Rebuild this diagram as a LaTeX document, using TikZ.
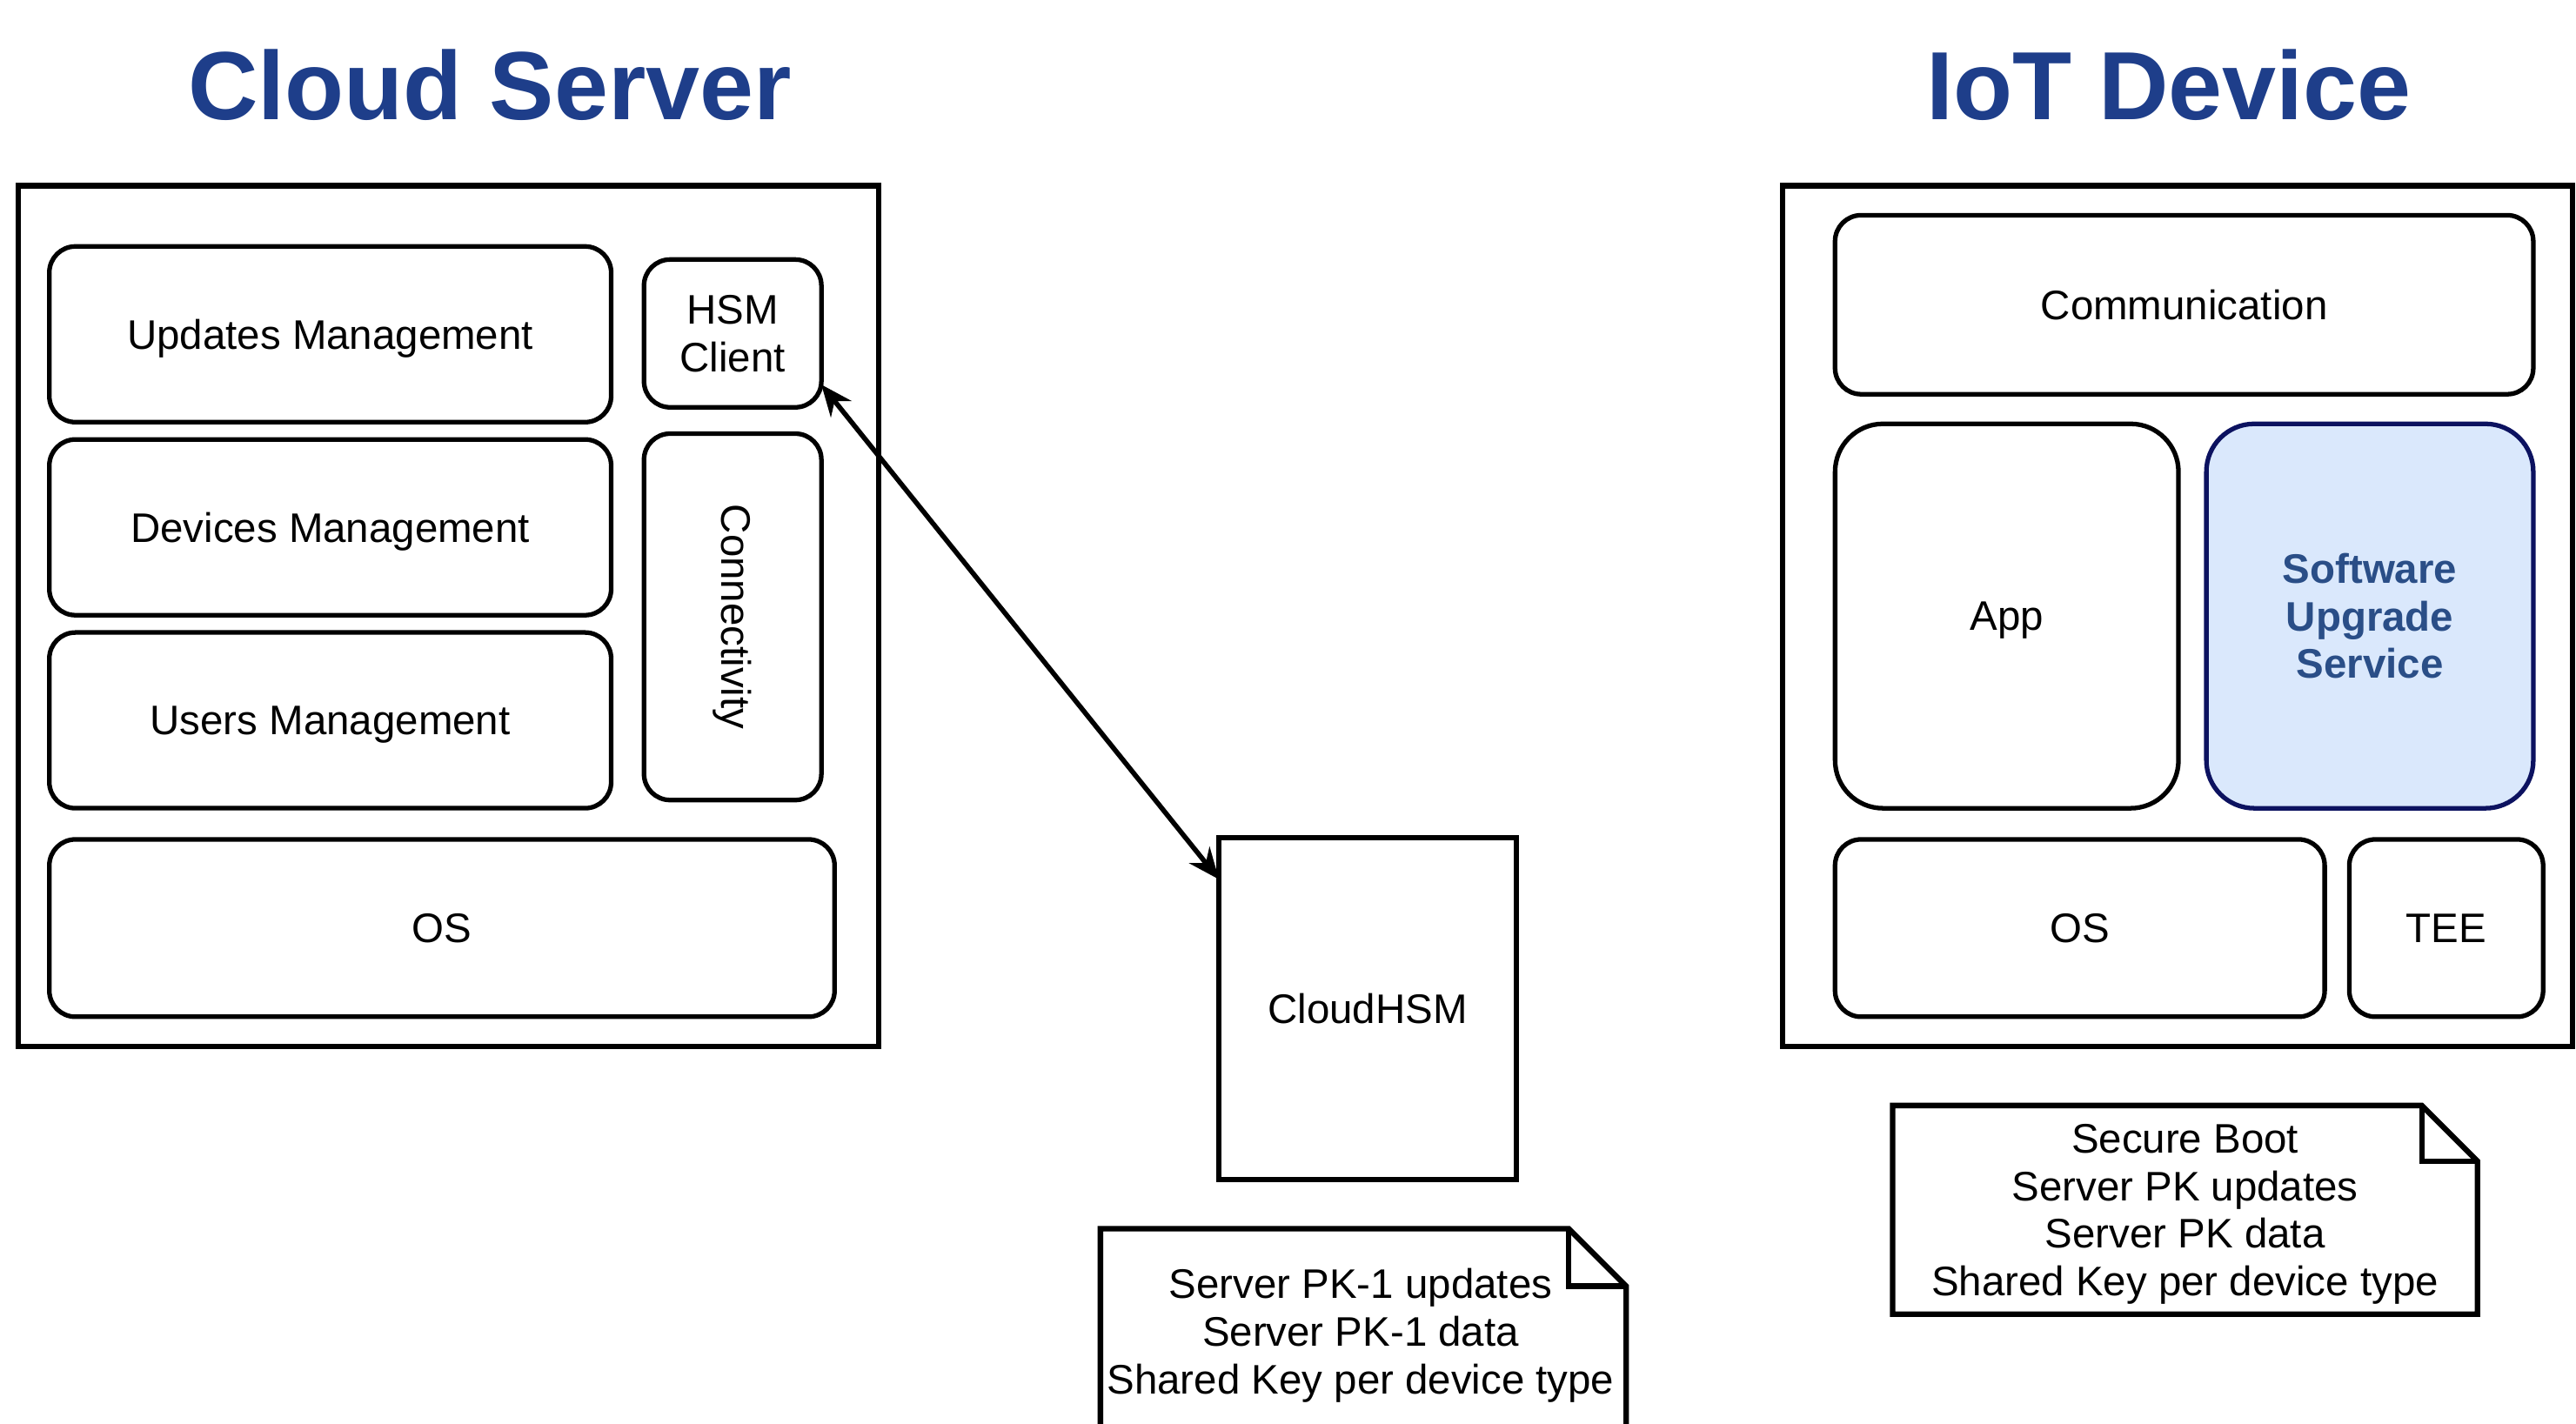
\documentclass[tikz,border=0pt]{standalone}
\usepackage{fontspec}
\setmainfont{Liberation Sans}
\usetikzlibrary{arrows.meta}

\definecolor{titleblue}{RGB}{30,62,138}
\definecolor{susfill}{HTML}{DAE8FC}
\definecolor{susline}{RGB}{12,18,96}
\definecolor{sustext}{RGB}{42,78,135}

\begin{document}
\begin{tikzpicture}
\tikzset{ >={Stealth[length=3.6mm,width=3mm]}, inner sep=0pt, outer sep=0pt,
  every node/.style={font=\fontsize{13.5}{15.6}\selectfont, align=center},
  title/.style={font=\fontsize{31.7}{38}\selectfont\bfseries, text=titleblue},
  frame/.style={draw, line width=1.8pt},
  layer/.style={draw, line width=1.5pt, rounded corners=0.3cm},
  block/.style={draw, line width=1.5pt, rounded corners=0.55cm},
  low/.style={yshift=-0.05cm},
}
\clip (0,0) rectangle (29.61,-16.37);
%\draw [lightgray, dashed](0,0) grid (30,-17);

\node [title] (CS) at (5.63,-0.98) {Cloud Server};
\node [title] (ID) at (24.93,-0.98) {IoT Device};

% cloud server
\node [frame, minimum width=9.895cm, minimum height=9.895cm] (server) at (5.155,-7.081) {};
\node [layer, minimum width=6.458cm, minimum height=2.02cm] (updates) at (3.796,-3.843) {};
\node [layer, minimum width=6.458cm, minimum height=2.02cm] (devices) at (3.796,-6.062) {};
\node [layer, minimum width=6.458cm, minimum height=2.02cm] (users)   at (3.796,-8.281) {};
\node [low] (updateslabel) at (updates) {Updates Management};
\node [low] (deviceslabel) at (devices) {Devices Management};
\node [low] (userslabel)   at (users)   {Users Management};
\node [layer, minimum width=2.039cm, minimum height=1.699cm] (hsm) at (8.422,-3.833) {HSM\\Client};
\node [layer, minimum width=2.039cm, minimum height=4.212cm] (conn) at (8.422,-7.091) {};
\node [rotate=-90] (connlabel) at (conn.center) {Connectivity};
\node [layer, minimum width=9.026cm, minimum height=2.039cm] (sos) at (5.080,-10.669) {OS};

% hsm
\node [frame, minimum width=3.418cm, minimum height=3.928cm] (cloudhsm) at (15.721,-11.595) {CloudHSM};
\draw [<->, line width=1.6pt] (hsm.-30) -- (cloudhsm.139);

\node [minimum width=6.043cm, minimum height=3.2cm] (hsmkeys) at (15.67,-15.725) {};
\node (hsmkeystext) at (15.64,-15.353) {Server PK-1 updates\\Server PK-1 data\\Shared Key per device type};

% iot device
\node [frame, minimum width=9.084cm, minimum height=9.895cm] (device) at (25.031,-7.081) {};
\node [layer, minimum width=8.026cm, minimum height=2.058cm] (comm) at (25.106,-3.503) {Communication};
\node [block, minimum width=3.947cm, minimum height=4.419cm] (app) at (23.067,-7.082) {};
\node [low] (applabel) at (app) {App};
\node [block, fill=susfill, draw=susline, text=sustext, font=\fontsize{13.5}{15.6}\selectfont\bfseries,
       minimum width=3.758cm, minimum height=4.419cm] (sus) at (27.240,-7.082) {Software\\Upgrade\\Service};
\node [layer, minimum width=5.628cm, minimum height=2.039cm] (dos) at (23.907,-10.669) {OS};
\node [layer, minimum width=2.228cm, minimum height=2.039cm] (tee) at (28.118,-10.669) {TEE};

\node [minimum width=6.723cm, minimum height=2.398cm] (iotkeys) at (25.116,-13.908) {};
\node [low] (iotkeystext) at (iotkeys) {Secure Boot\\Server PK updates\\Server PK data\\Shared Key per device type};

% note outlines
\foreach \n/\f in {hsmkeys/0.66, iotkeys/0.64} {
  \draw [line width=1.8pt, line join=miter]
    (\n.south west) -- (\n.north west) -- ([xshift=-\f cm]\n.north east)
    -- ([yshift=-\f cm]\n.north east) -- (\n.south east) -- cycle;
  \draw [line width=1.8pt]
    ([xshift=-\f cm]\n.north east) |- ([yshift=-\f cm]\n.north east);
}

\end{tikzpicture}
\end{document}
